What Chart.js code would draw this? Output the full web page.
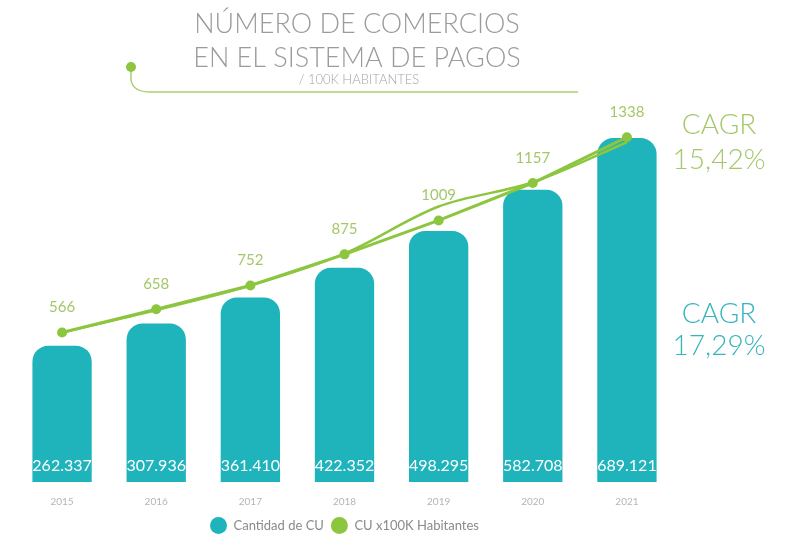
<!DOCTYPE html>
<html><head><meta charset="utf-8">
<script src="https://cdn.jsdelivr.net/npm/chart.js@4.4.1/dist/chart.umd.min.js"></script>
<style>html,body{margin:0;padding:0;background:#fff;}#wrap{width:792px;height:537px;}</style>
</head><body><div id="wrap"><canvas id="c" width="792" height="537"></canvas></div>
<script>
// ---- data ----
const years = ['2015', '2016', '2017', '2018', '2019', '2020', '2021'];
const comercios = [262337, 307936, 361410, 422352, 498295, 582708, 689121];
const porHabitantes = [566, 658, 752, 875, 1009, 1157, 1338];
const tendencia = [566, 655, 752, 878, 1064, 1160, 1318];
const seriesNames = ['Cantidad de CU', 'CU x100K Habitantes'];
const titleLines = ['NÚMERO DE COMERCIOS', 'EN EL SISTEMA DE PAGOS'];
const subtitleText = '/ 100K HABITANTES';
const cagrLinea = ['CAGR', '15,42%'];
const cagrBarras = ['CAGR', '17,29%'];

const TEAL = '#1fb3bb';
const GREEN = '#8cc63f';
const GREEN_TXT = '#a3c869';
const TEAL_TXT = '#35b5bc';

function fmtMiles(v) { return String(v).replace(/\B(?=(\d{3})+(?!\d))/g, '.'); }

const decorPlugin = {
  id: 'decor',
  afterDraw(chart) {
    const ctx = chart.ctx;
    ctx.save();
    // title
    ctx.fillStyle = '#9b9b9b';
    ctx.textAlign = 'center';
    ctx.textBaseline = 'alphabetic';
    ctx.font = '300 27px Lato';
    ctx.fillText(titleLines[0], 357, 33);
    ctx.fillText(titleLines[1], 357, 67);
    ctx.font = '300 13px Lato';
    ctx.fillStyle = '#a5a5a5';
    ctx.fillText(subtitleText, 359, 84);
    // decorative line
    ctx.strokeStyle = '#a8d070';
    ctx.lineWidth = 1.5;
    ctx.beginPath();
    ctx.moveTo(131, 67);
    ctx.lineTo(131, 80);
    ctx.quadraticCurveTo(133, 92, 150, 92);
    ctx.lineTo(578, 92);
    ctx.stroke();
    ctx.fillStyle = GREEN;
    ctx.beginPath();
    ctx.arc(131, 67, 5, 0, Math.PI * 2);
    ctx.fill();
    // CAGR
    ctx.font = '300 28px Lato';
    ctx.textAlign = 'center';
    ctx.fillStyle = GREEN_TXT;
    ctx.fillText(cagrLinea[0], 719, 134);
    ctx.fillText(cagrLinea[1], 719, 169);
    ctx.fillStyle = TEAL_TXT;
    ctx.fillText(cagrBarras[0], 719, 323);
    ctx.fillText(cagrBarras[1], 719, 355);
    ctx.restore();
  },
  afterDatasetsDraw(chart) {
    const ctx = chart.ctx;
    ctx.save();
    ctx.textAlign = 'center';
    ctx.textBaseline = 'middle';
    const barMeta = chart.getDatasetMeta(0);
    ctx.font = '16px Lato';
    ctx.fillStyle = '#ffffff';
    barMeta.data.forEach((el, i) => {
      ctx.fillText(fmtMiles(comercios[i]), el.x, el.base - 16);
    });
    const lineMeta = chart.getDatasetMeta(1);
    ctx.font = '15px Lato';
    ctx.fillStyle = GREEN_TXT;
    lineMeta.data.forEach((el, i) => {
      ctx.fillText(String(porHabitantes[i]), el.x, el.y - 25);
    });
    ctx.restore();
  }
};

new Chart(document.getElementById('c'), {
  data: {
    labels: years,
    datasets: [
      {
        type: 'bar', label: seriesNames[0], data: comercios, yAxisID: 'y',
        backgroundColor: TEAL, borderColor: TEAL, borderWidth: 0,
        borderRadius: {topLeft: 16, topRight: 16, bottomLeft: 0, bottomRight: 0},
        borderSkipped: false, base: -18000,
        barPercentage: 0.63, categoryPercentage: 1, order: 2
      },
      {
        type: 'line', label: seriesNames[1], data: porHabitantes, yAxisID: 'y2',
        borderColor: GREEN, backgroundColor: GREEN, borderWidth: 3,
        pointRadius: 5, pointHoverRadius: 5, pointBackgroundColor: GREEN, pointBorderWidth: 0,
        tension: 0, order: 0
      },
      {
        type: 'line', label: 'tendencia', data: tendencia, yAxisID: 'y2',
        borderColor: GREEN, backgroundColor: GREEN, borderWidth: 2.5,
        pointRadius: 0, cubicInterpolationMode: 'monotone', order: 1
      }
    ]
  },
  options: {
    responsive: false, animation: false, devicePixelRatio: 1,
    layout: {padding: {top: 100, left: 15, right: 118, bottom: -5}},
    scales: {
      x: {
        offset: true,
        grid: {display: false, drawTicks: false}, border: {display: false},
        ticks: {color: '#b5b5b5', font: {family: 'Lato', size: 10}, padding: 4}
      },
      y: {display: false, min: -38700, max: 767500},
      y2: {display: false, min: -64, max: 1485}
    },
    plugins: {
      tooltip: {enabled: false},
      legend: {
        position: 'bottom',
        labels: {
          filter: (item) => item.datasetIndex < 2,
          sort: (a, b) => a.datasetIndex - b.datasetIndex,
          usePointStyle: true, pointStyle: 'circle', boxHeight: 12, pointStyleWidth: 17,
          color: '#8a8a8a', font: {family: 'Lato', size: 13}, padding: 7
        }
      }
    }
  },
  plugins: [decorPlugin]
});
</script>
</body></html>
